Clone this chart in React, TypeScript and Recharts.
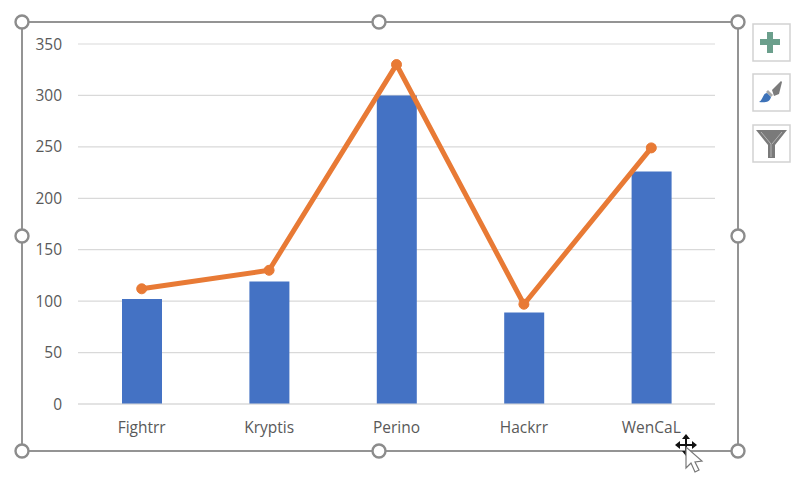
import React from 'react';
import { ComposedChart, Bar, Line, XAxis, YAxis, CartesianGrid } from 'recharts';

const categories = ['Fightrr', 'Kryptis', 'Perino', 'Hackrr', 'WenCaL'];
const barValues = [102, 119, 300, 89, 226];
const lineValues = [112, 130, 330, 97, 249];
const yTicks = [0, 50, 100, 150, 200, 250, 300, 350];

const data = categories.map((name, i) => ({ name, bars: barValues[i], line: lineValues[i] }));

const FONT = '"Open Sans", "Noto Sans", sans-serif';
const handles = [
  [22, 22], [379, 22], [738, 22],
  [22, 236], [738, 236],
  [22, 451], [379, 451], [738, 451],
];
const buttonsY = [24, 74, 125];

function SelectionFrame() {
  return (
    <svg width={800} height={482} style={{ position: 'absolute', left: 0, top: 0, pointerEvents: 'none' }}>
      <rect x={22} y={22} width={716} height={429} fill="none" stroke="#949494" strokeWidth={2} />
      {handles.map(([cx, cy], i) => (
        <circle key={i} cx={cx} cy={cy} r={6.5} fill="#fff" stroke="#8c8c8c" strokeWidth={2.4} />
      ))}

      {buttonsY.map((y) => (
        <rect key={y} x={753} y={y} width={37} height={37} fill="#fff" stroke="#d2d2d2" strokeWidth={1.5} />
      ))}

      {/* plus */}
      <path d="M767 32h6v7h7v6h-7v8h-6v-8h-7v-6h7z" fill="#6b9f8c" />

      {/* brush */}
      <path d="M772 90l9-9 1 1-3 12-5 2z" fill="#7b7b7b" />
      <path d="M768 90l5 5-2 2-5-5z" fill="#a8a8a8" />
      <path d="M759 102c4-2 4-9 8-9l4 4c-1 5-6 6-12 5z" fill="#3d72b8" />

      {/* funnel */}
      <path d="M756 130h31l-12 15v13h-7v-13z" fill="#7a7a7a" />
      <path d="M761 132l10 12v13M782 132l-10 12" fill="none" stroke="#b4b4b4" strokeWidth={1} />

      {/* move cursor */}
      <path d="M686 434l4 5h-3v5h5v-3l5 4-5 4v-3h-5v5h3l-4 5-4-5h3v-5h-5v3l-5-4 5-4v3h5v-5h-3z" fill="#111" />
      <path d="M686 447l0 21 5-5 4 9 4-2-4-8 7-1z" fill="#fff" stroke="#777" strokeWidth={1.2} />
    </svg>
  );
}

export default function App() {
  return (
    <div style={{ position: 'absolute', left: 0, top: 0, width: 800, height: 482, background: '#fff' }}>
      <ComposedChart
        width={800}
        height={482}
        data={data}
        margin={{ top: 44, right: 85, bottom: 48, left: 18 }}
      >
        <CartesianGrid vertical={false} stroke="#d9d9d9" strokeWidth={1.2} />
        <XAxis
          dataKey="name"
          height={30}
          axisLine={{ stroke: '#d9d9d9', strokeWidth: 1.2 }}
          tickLine={false}
          tickMargin={12}
          interval={0}
          tick={{ fontSize: 15.5, fill: '#595959', fontFamily: FONT }}
        />
        <YAxis
          width={60}
          domain={[0, 350]}
          ticks={yTicks}
          interval={0}
          axisLine={false}
          tickLine={false}
          tickSize={0}
          tickMargin={16}
          tick={{ fontSize: 15.5, fill: '#595959', fontFamily: FONT }}
        />
        <Bar dataKey="bars" fill="#4472C4" barSize={40} isAnimationActive={false} />
        <Line
          dataKey="line"
          stroke="#E87A35"
          strokeWidth={5}
          dot={{ r: 5, fill: '#E87A35', stroke: '#E87A35', strokeWidth: 1 }}
          isAnimationActive={false}
        />
      </ComposedChart>
      <SelectionFrame />
    </div>
  );
}
